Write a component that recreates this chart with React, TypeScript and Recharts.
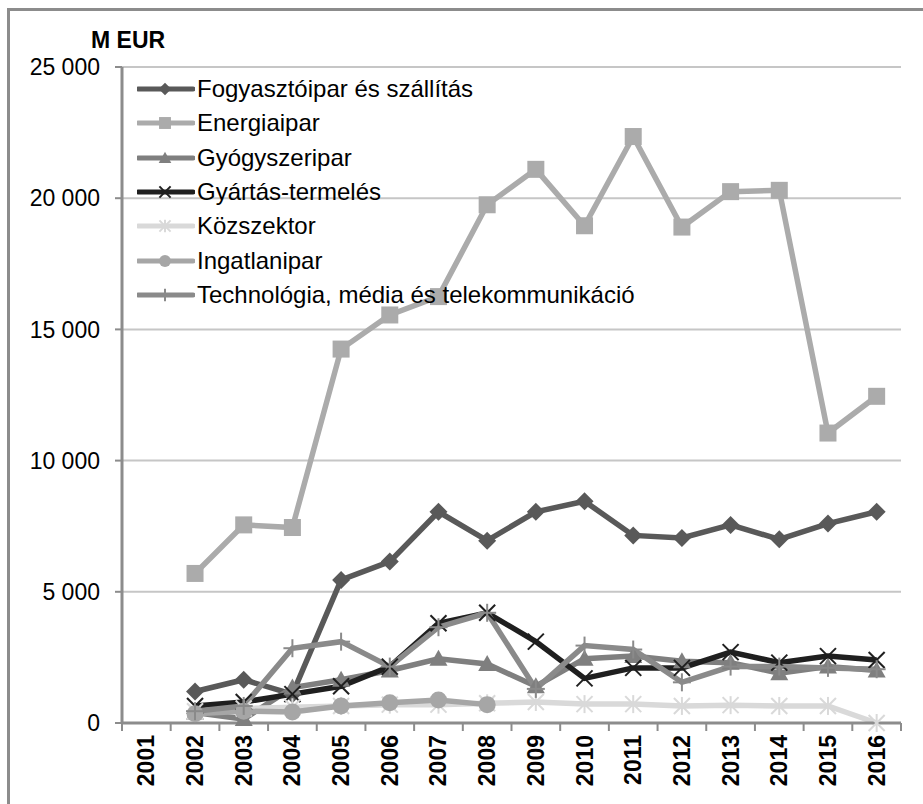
import React from "react";
import {
  CartesianGrid,
  Legend,
  Line,
  LineChart,
  XAxis,
  YAxis
} from "recharts";

const years = [2001, 2002, 2003, 2004, 2005, 2006, 2007, 2008, 2009, 2010, 2011, 2012, 2013, 2014, 2015, 2016];

const fogyasztoipar = [null, 1200, 1650, 1100, 5450, 6150, 8050, 6950, 8050, 8450, 7150, 7050, 7550, 7000, 7600, 8050];
const energiaipar = [null, 5700, 7550, 7450, 14250, 15550, 16250, 19750, 21100, 18950, 22350, 18900, 20250, 20300, 11050, 12450];
const gyogyszeripar = [null, 400, 150, 1350, 1650, 2000, 2450, 2250, 1400, 2450, 2550, 2350, 2300, 1900, 2150, 2000];
const gyartasTermeles = [null, 650, 800, 1100, 1400, 2150, 3800, 4200, 3100, 1700, 2100, 2100, 2700, 2300, 2550, 2400];
const kozszektor = [null, 450, 550, 600, 650, 700, 700, 750, 800, 720, 720, 650, 680, 650, 650, 0];
const ingatlanipar = [null, 350, 450, 420, 650, 770, 880, 700, null, null, null, null, null, null, null, null];
const technologia = [null, 450, 650, 2850, 3100, 2150, 3650, 4200, 1300, 2950, 2800, 1550, 2150, 2150, 2100, 2050];

const yTicks = [0, 5000, 10000, 15000, 20000, 25000];

type Shape = "diamond" | "square" | "triangle" | "x" | "star" | "circle" | "plus";

const series: { key: string; name: string; values: (number | null)[]; color: string; shape: Shape }[] = [
  { key: "fogy", name: "Fogyasztóipar és szállítás", values: fogyasztoipar, color: "#595959", shape: "diamond" },
  { key: "energia", name: "Energiaipar", values: energiaipar, color: "#ababab", shape: "square" },
  { key: "gyogy", name: "Gyógyszeripar", values: gyogyszeripar, color: "#7f7f7f", shape: "triangle" },
  { key: "gyartas", name: "Gyártás-termelés", values: gyartasTermeles, color: "#1f1f1f", shape: "x" },
  { key: "koz", name: "Közszektor", values: kozszektor, color: "#d9d9d9", shape: "star" },
  { key: "ingatlan", name: "Ingatlanipar", values: ingatlanipar, color: "#a6a6a6", shape: "circle" },
  { key: "tech", name: "Technológia, média és telekommunikáció", values: technologia, color: "#8a8a8a", shape: "plus" }
];

const data = years.map((year, i) => {
  const row: Record<string, number | null> = { year };
  series.forEach((s) => {
    row[s.key] = s.values[i];
  });
  return row;
});

// tick positions: year centres get labels, half years get the small tick marks
const xTicks = [...years.flatMap((y) => [y - 0.5, y]), years[years.length - 1] + 0.5];

const FONT = "'Liberation Sans', Arial, sans-serif";

function Marker({ shape, cx, cy, color, s = 1 }: { shape: Shape; cx: number; cy: number; color: string; s?: number }) {
  const r = 9 * s;
  switch (shape) {
    case "diamond":
      return <polygon points={`${cx},${cy - r} ${cx + r},${cy} ${cx},${cy + r} ${cx - r},${cy}`} fill={color} />;
    case "square":
      return <rect x={cx - 8.5 * s} y={cy - 8.5 * s} width={17 * s} height={17 * s} fill={color} />;
    case "triangle":
      return <polygon points={`${cx},${cy - r} ${cx + r},${cy + 7 * s} ${cx - r},${cy + 7 * s}`} fill={color} />;
    case "circle":
      return <circle cx={cx} cy={cy} r={8.5 * s} fill={color} />;
    case "x":
      return (
        <g stroke={color} strokeWidth={2}>
          <line x1={cx - 8 * s} y1={cy - 8 * s} x2={cx + 8 * s} y2={cy + 8 * s} />
          <line x1={cx - 8 * s} y1={cy + 8 * s} x2={cx + 8 * s} y2={cy - 8 * s} />
        </g>
      );
    case "star":
      return (
        <g stroke={color} strokeWidth={2}>
          <line x1={cx - 8 * s} y1={cy - 8 * s} x2={cx + 8 * s} y2={cy + 8 * s} />
          <line x1={cx - 8 * s} y1={cy + 8 * s} x2={cx + 8 * s} y2={cy - 8 * s} />
          <line x1={cx} y1={cy - 9 * s} x2={cx} y2={cy + 9 * s} />
        </g>
      );
    case "plus":
      return (
        <g stroke={color} strokeWidth={2}>
          <line x1={cx} y1={cy - 9 * s} x2={cx} y2={cy + 9 * s} />
          <line x1={cx - 9 * s} y1={cy} x2={cx + 9 * s} y2={cy} />
        </g>
      );
  }
  return null;
}

function makeDot(shape: Shape, color: string, key: string) {
  return (p: any) => {
    if (p.cx == null || p.cy == null || p.value == null) return <g key={`${key}-${p.index}`} />;
    return (
      <g key={`${key}-${p.index}`}>
        <Marker shape={shape} cx={p.cx} cy={p.cy} color={color} />
      </g>
    );
  };
}

function XTick({ x, y, payload }: any) {
  const v = payload.value as number;
  if (!Number.isInteger(v)) {
    return <line x1={x} y1={y} x2={x} y2={y + 8} stroke="#8c8c8c" strokeWidth={2} />;
  }
  const ty = y + 12;
  return (
    <text
      x={x}
      y={ty}
      transform={`rotate(-90 ${x} ${ty})`}
      textAnchor="end"
      dominantBaseline="central"
      fontFamily={FONT}
      fontWeight="bold"
      fontSize={23}
      fill="#000"
    >
      {v}
    </text>
  );
}

function formatY(v: number) {
  return v.toLocaleString("en-US").replace(/,/g, " ");
}

function LegendList() {
  return (
    <div style={{ fontFamily: FONT, fontSize: 24, color: "#000" }}>
      {series.map((s) => (
        <div key={s.key} style={{ display: "flex", alignItems: "center", height: 34.3 }}>
          <svg width={58} height={34} style={{ display: "block" }}>
            <line x1={1} y1={17} x2={56} y2={17} stroke={s.color} strokeWidth={5} strokeLinecap="round" />
            <Marker shape={s.shape} cx={28} cy={17} color={s.color} s={0.7} />
          </svg>
          <span style={{ marginLeft: 2, whiteSpace: "nowrap" }}>{s.name}</span>
        </div>
      ))}
    </div>
  );
}

export default function App() {
  return (
    <div style={{ position: "relative", width: 923, height: 804, overflow: "hidden", background: "#fff" }}>
      <style>{`body{margin:0;overflow:hidden}`}</style>
      <div
        style={{
          position: "absolute",
          left: 7,
          top: 8,
          width: 1000,
          height: 1000,
          border: "3px solid #8c8c8c",
          boxSizing: "border-box"
        }}
      />
      <div
        style={{
          position: "absolute",
          left: 91,
          top: 27,
          fontFamily: FONT,
          fontWeight: "bold",
          fontSize: 23,
          color: "#000"
        }}
      >
        M EUR
      </div>
      <div style={{ position: "absolute", left: 0, top: 0 }}>
        <LineChart width={923} height={804} data={data} margin={{ top: 67, right: 22, bottom: 0, left: 0 }}>
          <CartesianGrid vertical={false} stroke="#c6c6c6" strokeWidth={2} />
          <XAxis
            dataKey="year"
            type="number"
            domain={[years[0] - 0.5, years[years.length - 1] + 0.5]}
            ticks={xTicks}
            interval={0}
            height={81}
            tickSize={0}
            tickMargin={0}
            tickLine={false}
            axisLine={{ stroke: "#8c8c8c", strokeWidth: 3 }}
            tick={<XTick />}
          />
          <YAxis
            width={122}
            domain={[0, 25000]}
            ticks={yTicks}
            interval={0}
            tickSize={7}
            tickMargin={15}
            tickFormatter={formatY}
            tickLine={{ stroke: "#8c8c8c", strokeWidth: 2 }}
            axisLine={{ stroke: "#8c8c8c", strokeWidth: 3 }}
            tick={{ fontFamily: FONT, fontSize: 23, fill: "#000" }}
          />
          <Legend
            layout="vertical"
            align="center"
            verticalAlign="middle"
            wrapperStyle={{ left: 137, top: 72, width: "auto", height: "auto" }}
            content={() => <LegendList />}
          />
          {series.map((s) => (
            <Line
              key={s.key}
              dataKey={s.key}
              name={s.name}
              type="linear"
              stroke={s.color}
              strokeWidth={5.5}
              dot={makeDot(s.shape, s.color, s.key)}
              activeDot={false}
              isAnimationActive={false}
            />
          ))}
        </LineChart>
      </div>
    </div>
  );
}
